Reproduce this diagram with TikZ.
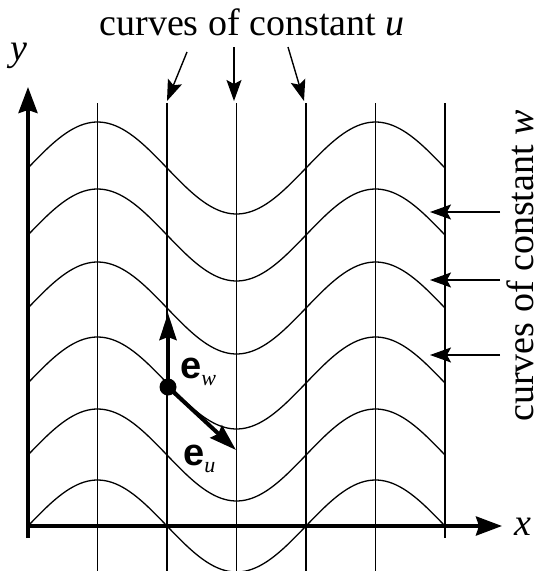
\documentclass[tikz,border=0pt]{standalone}
\usepackage{fontspec}
\setmainfont{Liberation Serif}
\setsansfont{Liberation Sans}
\usetikzlibrary{arrows.meta}
\begin{document}
\begin{tikzpicture}[x=1pt,y=-1pt,
  gridline/.style={line width=1.4pt},
  curveline/.style={line width=1.3pt},
  axisline/.style={line width=3.8pt,-{Stealth[length=26pt,width=19pt,inset=3pt]}},
  pointer/.style={line width=1.4pt,-{Stealth[length=21pt,width=15pt,inset=4pt]}},
  evec/.style={line width=4pt,-{Stealth[length=27pt,width=17pt,inset=3pt]}},
  lbl/.style={inner sep=0pt,font=\fontsize{38pt}{40pt}\selectfont},
  elbl/.style={inner sep=0pt,anchor=base west,font=\fontsize{38pt}{40pt}\selectfont\sffamily\bfseries}]
\useasboundingbox (0,0) rectangle (540,571);
% grid of constant u
\foreach \i in {1,...,5}
  \draw[gridline] ({28+69.5*\i},103) -- ({28+69.5*\i},571);
\draw[gridline] (445,103) -- (445,538);
% curves of constant w
\foreach \c in {168,235,308,383,455,526}
  \draw[curveline] plot[domain=28:445,samples=120,smooth] (\x,{\c-46*cos((\x-97.5)*1.294964)});
% axes
\coordinate (O) at (26,526);
\coordinate (xend) at (502,526);
\coordinate (ybot) at (28,538);
\coordinate (yend) at (28,87);
\draw[axisline] (ybot) -- (yend);
\draw[axisline] (O) -- (xend);
\node[lbl,anchor=base] (ylab) at (19,60) {\textit{y}};
\node[lbl,anchor=base] (xlab) at (523,535) {\textit{x}};
% top label
\node[lbl,anchor=base] (tu) at (252,35) {curves of constant \textit{u}};
\coordinate (a1s) at (187,52); \coordinate (a1e) at (167,101);
\coordinate (a2s) at (234,47); \coordinate (a2e) at (234,101);
\coordinate (a3s) at (288,47); \coordinate (a3e) at (304,101);
\draw[pointer] (a1s) -- (a1e);
\draw[pointer] (a2s) -- (a2e);
\draw[pointer] (a3s) -- (a3e);
% right label
\node[lbl,rotate=90,anchor=base] (tw) at (533,266) {curves of constant \textit{w}};
\coordinate (b1s) at (500,212); \coordinate (b1e) at (430,212);
\coordinate (b2s) at (500,280); \coordinate (b2e) at (430,280);
\coordinate (b3s) at (500,355); \coordinate (b3e) at (430,355);
\draw[pointer] (b1s) -- (b1e);
\draw[pointer] (b2s) -- (b2e);
\draw[pointer] (b3s) -- (b3e);
% basis vectors
\node[circle,fill=black,inner sep=0pt,minimum size=17pt] (dot) at (168,387) {};
\coordinate (ewtip) at (168,313);
\coordinate (eutip) at (236,450);
\draw[evec] (dot.center) -- (ewtip);
\draw[evec] (dot.center) -- (eutip);
\node[elbl] (ew) at (180,378) {e\raisebox{-7pt}{\fontsize{22pt}{22pt}\selectfont\rmfamily\mdseries\itshape w}};
\node[elbl] (eu) at (183,465) {e\raisebox{-7pt}{\fontsize{22pt}{22pt}\selectfont\rmfamily\mdseries\itshape u}};
\end{tikzpicture}
\end{document}
